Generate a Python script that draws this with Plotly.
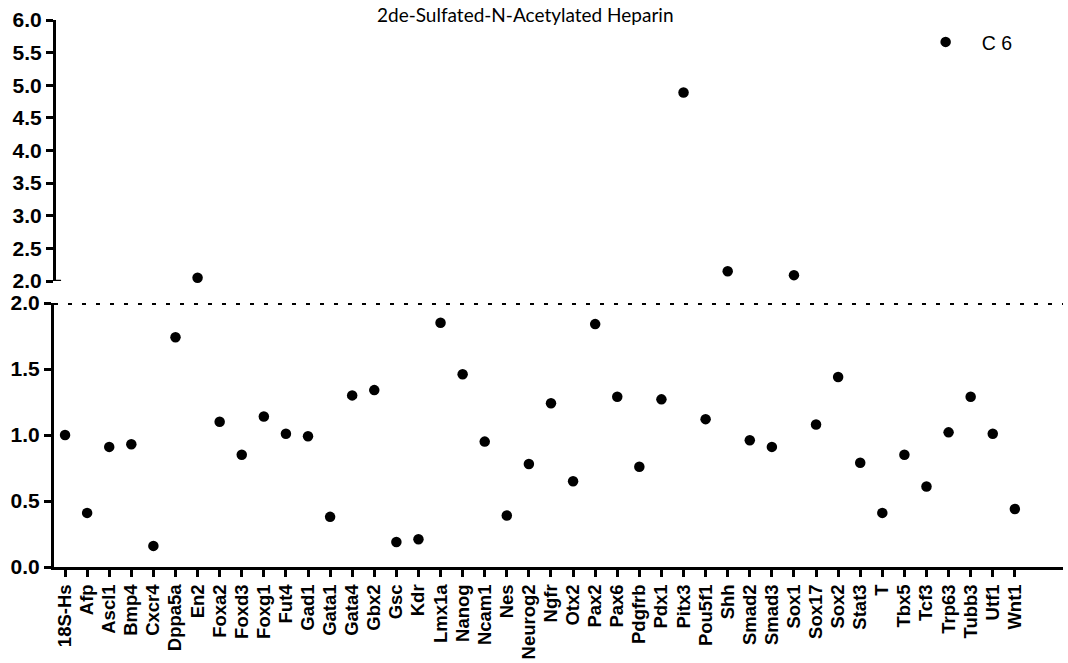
import plotly.graph_objects as go

genes = ["18S-Hs", "Afp", "Ascl1", "Bmp4", "Cxcr4", "Dppa5a", "En2", "Foxa2", "Foxd3", "Foxg1",
         "Fut4", "Gad1", "Gata1", "Gata4", "Gbx2", "Gsc", "Kdr", "Lmx1a", "Nanog", "Ncam1",
         "Nes", "Neurog2", "Ngfr", "Otx2", "Pax2", "Pax6", "Pdgfrb", "Pdx1", "Pitx3", "Pou5f1",
         "Shh", "Smad2", "Smad3", "Sox1", "Sox17", "Sox2", "Stat3", "T", "Tbx5", "Tcf3",
         "Trp63", "Tubb3", "Utf1", "Wnt1"]
values = [1.00, 0.41, 0.91, 0.93, 0.16, 1.74, 2.05, 1.10, 0.85, 1.14,
          1.01, 0.99, 0.38, 1.30, 1.34, 0.19, 0.21, 1.85, 1.46, 0.95,
          0.39, 0.78, 1.24, 0.65, 1.84, 1.29, 0.76, 1.27, 4.89, 1.12,
          2.15, 0.96, 0.91, 2.09, 1.08, 1.44, 0.79, 0.41, 0.85, 0.61,
          1.02, 1.29, 1.01, 0.44]
series_name = "C 6"
title = "2de-Sulfated-N-Acetylated Heparin"
break_value = 2.0

idx = list(range(len(genes)))
low_x = [i for i, v in zip(idx, values) if v <= break_value]
low_y = [v for v in values if v <= break_value]
high_x = [i for i, v in zip(idx, values) if v > break_value]
high_y = [v for v in values if v > break_value]

FONT = "Liberation Sans, Arial, sans-serif"
H = 663
T, B = 20, 96
plot_h = H - T - B
low_top = (567 - 303) / plot_h
up_bot = (567 - 281) / plot_h

marker = dict(color="black", size=10.5, symbol="circle")

fig = go.Figure()
fig.add_trace(go.Scatter(x=low_x, y=low_y, mode="markers", marker=marker,
                         xaxis="x", yaxis="y", showlegend=False, cliponaxis=False))
fig.add_trace(go.Scatter(x=high_x, y=high_y, mode="markers", marker=marker,
                         xaxis="x", yaxis="y2", name=series_name, showlegend=True,
                         cliponaxis=False))

def axis_style(size):
    return dict(showline=True, linecolor="black", linewidth=3, ticks="outside",
                ticklen=7, tickwidth=2.5, tickcolor="black", showgrid=False,
                zeroline=False, automargin=False,
                tickfont=dict(family=FONT, size=size, color="black", weight="bold"))

fig.update_layout(
    width=1068, height=H,
    margin=dict(l=54, r=5, t=T, b=B),
    plot_bgcolor="white", paper_bgcolor="white",
    xaxis=dict(range=[-0.5, 45.18], tickvals=idx, ticktext=genes, tickangle=-90,
               anchor="y", **axis_style(18.5)),
    yaxis=dict(domain=[0, low_top], range=[0, 2.0], tickvals=[0, 0.5, 1.0, 1.5, 2.0],
               ticktext=["0.0", "0.5", "1.0", "1.5", "2.0"], anchor="x", **axis_style(21)),
    yaxis2=dict(domain=[up_bot, 1], range=[2.0, 6.0],
                tickvals=[2.0, 2.5, 3.0, 3.5, 4.0, 4.5, 5.0, 5.5, 6.0],
                ticktext=["2.0", "2.5", "3.0", "3.5", "4.0", "4.5", "5.0", "5.5", "6.0"],
                anchor="free", position=0, **axis_style(21)),
    legend=dict(x=0.848, y=0.995, xanchor="left", yanchor="top", itemwidth=62,
                font=dict(family=FONT, size=19.5, color="black"),
                bgcolor="rgba(0,0,0,0)"),
    showlegend=True,
)

# dotted break line at 2.0 on the lower axis
fig.add_shape(type="line", xref="paper", yref="y", x0=0, x1=1, y0=break_value, y1=break_value,
              line=dict(color="black", width=4, dash="4px,10px"))
# break stub on upper axis
fig.add_shape(type="line", xref="paper", yref="y2", x0=0, x1=0.007, y0=break_value, y1=break_value,
              line=dict(color="black", width=2.5))

fig.add_annotation(text=title, xref="paper", yref="paper", x=0.467, y=1.0, yshift=6,
                   xanchor="center", yanchor="middle", showarrow=False,
                   font=dict(family="Lato, Noto Sans, sans-serif", size=19, color="black"))

fig.write_html("out.html")
